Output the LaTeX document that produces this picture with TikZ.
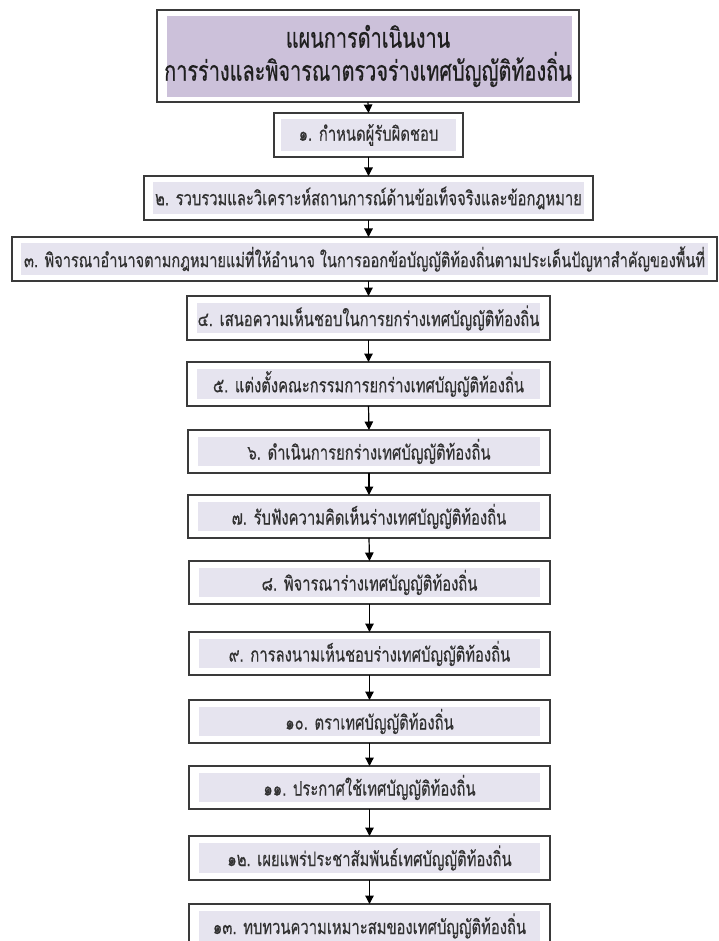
\documentclass[tikz,border=0pt]{standalone}
\usepackage{fontspec}
\newfontfamily\thai[Script=Thai,FakeStretch=0.74,FakeBold=0.3]{Loma}
\newfontfamily\thaititle[Script=Thai,FakeStretch=0.71,FakeBold=0.5]{Loma}
\usetikzlibrary{arrows.meta}
\definecolor{titlefill}{HTML}{CCC1DA}
\definecolor{boxfill}{HTML}{E6E4EF}
\definecolor{edge}{HTML}{3A3A3A}
\definecolor{ink}{HTML}{303030}
\tikzset{
  stepbox/.style 2 args={draw=edge, line width=1.2pt, fill=white, inner sep=0pt, outer sep=0pt,
    text=ink, font=\thai\fontsize{20}{24}\selectfont,
    path picture={\fill[boxfill] ([xshift=#1pt,yshift=#2pt]path picture bounding box.south west)
      rectangle ([xshift=-#1pt,yshift=-#2pt]path picture bounding box.north east);}},
  titlebox/.style={stepbox={10}{5}, text=black!88, align=center,
    font=\thaititle\fontsize{28}{33}\selectfont,
    path picture={\fill[titlefill] ([xshift=10pt,yshift=5pt]path picture bounding box.south west)
      rectangle ([xshift=-7pt,yshift=-6pt]path picture bounding box.north east);}},
  arr/.style={draw=black, line width=1.2pt, -{Triangle[length=8.5pt,width=8.5pt]}}
}
\begin{document}
\begin{tikzpicture}[x=1pt,y=-1pt]
\useasboundingbox (0,0) rectangle (718,941);
\node[titlebox, minimum width=422pt, minimum height=92pt] (t) at (368,56)
  {แผนการดำเนินงาน\\การร่างและพิจารณาตรวจร่างเทศบัญญัติท้องถิ่น};
\node[stepbox={7}{6}, minimum width=189pt, minimum height=44pt] (b1) at (368.5,135) {๑. กำหนดผู้รับผิดชอบ};
\node[stepbox={9}{6}, minimum width=449pt, minimum height=44pt] (b2) at (368.5,198) {๒. รวบรวมและวิเคราะห์สถานการณ์ด้านข้อเท็จจริงและข้อกฎหมาย};
\node[stepbox={9}{6}, minimum width=705pt, minimum height=44pt, font=\thai\fontsize{19.7}{24}\selectfont] (b3) at (364.5,259) {๓. พิจารณาอำนาจตามกฎหมายแม่ที่ให้อำนาจ ในการออกข้อบัญญัติท้องถิ่นตามประเด็นปัญหาสำคัญของพื้นที่};
\node[stepbox={10}{7}, minimum width=363pt, minimum height=44pt] (b4) at (368.5,318) {๔. เสนอความเห็นชอบในการยกร่างเทศบัญญัติท้องถิ่น};
\node[stepbox={10}{7}, minimum width=363pt, minimum height=44pt] (b5) at (368.5,384) {๕. แต่งตั้งคณะกรรมการยกร่างเทศบัญญัติท้องถิ่น};
\node[stepbox={10}{7}, minimum width=362pt, minimum height=43pt] (b6) at (369,451.5) {๖. ดำเนินการยกร่างเทศบัญญัติท้องถิ่น};
\node[stepbox={10}{7}, minimum width=362pt, minimum height=43pt] (b7) at (369,516.5) {๗. รับฟังความคิดเห็นร่างเทศบัญญัติท้องถิ่น};
\node[stepbox={10}{7}, minimum width=361pt, minimum height=43pt] (b8) at (369.5,582.5) {๘. พิจารณาร่างเทศบัญญัติท้องถิ่น};
\node[stepbox={10}{7}, minimum width=361pt, minimum height=43pt] (b9) at (369.5,653.5) {๙. การลงนามเห็นชอบร่างเทศบัญญัติท้องถิ่น};
\node[stepbox={10}{7}, minimum width=361pt, minimum height=43pt] (b10) at (369.5,721.5) {๑๐. ตราเทศบัญญัติท้องถิ่น};
\node[stepbox={10}{7}, minimum width=361pt, minimum height=43pt] (b11) at (369.5,787.5) {๑๑. ประกาศใช้เทศบัญญัติท้องถิ่น};
\node[stepbox={10}{7}, minimum width=361pt, minimum height=44pt] (b12) at (369.5,858) {๑๒. เผยแพร่ประชาสัมพันธ์เทศบัญญัติท้องถิ่น};
\node[stepbox={10}{7}, minimum width=361pt, minimum height=44pt] (b13) at (369.5,926) {๑๓. ทบทวนความเหมาะสมของเทศบัญญัติท้องถิ่น};
\draw[arr] (t.south) -- (b1.north);
\draw[arr] (b1.south) -- (b2.north);
\draw[arr] (b2.south) -- (b2.south |- b3.north);
\draw[arr] (b4.north |- b3.south) -- (b4.north);
\draw[arr] (b4.south) -- (b5.north);
\draw[arr] (b5.south) -- (b6.north);
\draw[arr] (b6.south) -- (b7.north);
\draw[arr] (b7.south) -- (b8.north);
\draw[arr] (b8.south) -- (b9.north);
\draw[arr] (b9.south) -- (b10.north);
\draw[arr] (b10.south) -- (b11.north);
\draw[arr] (b11.south) -- (b12.north);
\draw[arr] (b12.south) -- (b13.north);
\end{tikzpicture}
\end{document}
